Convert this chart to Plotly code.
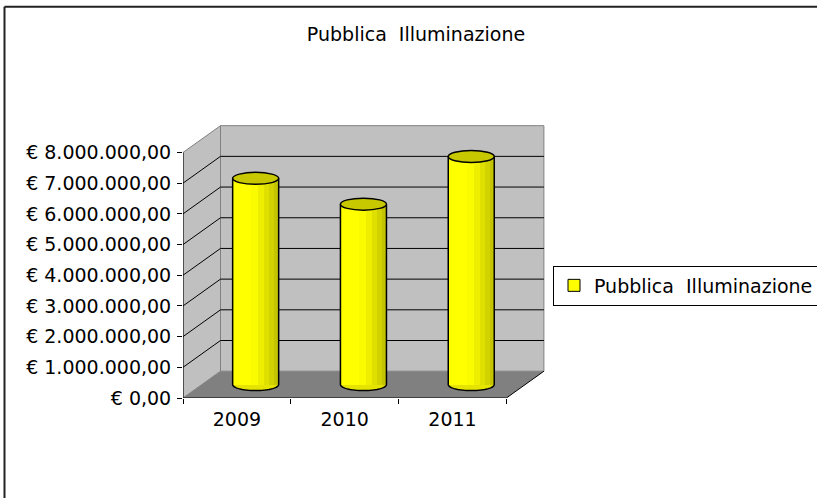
import numpy as np
import plotly.graph_objects as go

# ---------------- data ----------------
CATEGORIES = ["2009", "2010", "2011"]
VALUES = [6720000, 5880000, 7430000]
SERIES_NAME = "Pubblica  Illuminazione"
TITLE = "Pubblica  Illuminazione"
Y_TICK_VALUES = [0, 1000000, 2000000, 3000000, 4000000, 5000000, 6000000, 7000000, 8000000]
Y_TICK_LABELS = ["€ 0,00", "€ 1.000.000,00", "€ 2.000.000,00", "€ 3.000.000,00",
                 "€ 4.000.000,00", "€ 5.000.000,00", "€ 6.000.000,00",
                 "€ 7.000.000,00", "€ 8.000.000,00"]

# ---------------- geometry (pixels of the 817x498 page) ----------------
W, H = 817, 498
PL, PR, PT, PB = 183, 545, 124, 398           # plot area
PX_PER_CAT = 107.8
PX_PER_EUR = 30.69 / 1e6
N = len(CATEGORIES)
Y_TOP = Y_TICK_VALUES[-1]
X_MAX = (PR - PL) / PX_PER_CAT
Y_MAX = (PB - PT) / PX_PER_EUR
DX = 37.5 / PX_PER_CAT                        # depth offset in category units
DY = 26.8 / PX_PER_EUR                        # depth offset in euro units
BW = 46 / PX_PER_CAT                          # cylinder width
RY = 6 / PX_PER_EUR                           # ellipse half height

FONT = "DejaVu Sans"
nb = lambda s: s.replace("  ", "\u00a0 ")

def px2paper_x(px):
    return (px - PL) / (PR - PL)

def px2paper_y(py):
    return (PB - py) / (PB - PT)

fig = go.Figure()

# legend-only entry (empty trace on main axes)
fig.add_trace(go.Bar(x=[None], y=[None], name=nb(SERIES_NAME),
                     marker=dict(color="#ffff00", line=dict(color="black", width=1)),
                     xaxis="x", yaxis="y", showlegend=True, hoverinfo="skip"))

# cylinders drawn as shaded strips on a mid-depth axis pair
centers = [i + 0.5 for i in range(N)]
strips = [(1.0, "#c4c400"), (0.9, "#d2d200"), (0.8, "#e0e000"),
          (0.68, "#eeee00"), (0.55, "#fbfb00"), (0.4, "#ffff00")]
for k, col in strips:
    fig.add_trace(go.Bar(x=centers, y=VALUES, width=BW * k, offset=-BW / 2,
                         marker=dict(color=col, line=dict(width=0)),
                         xaxis="x3", yaxis="y3", showlegend=False, hoverinfo="skip"))

shapes = []
GRAY_WALL = "#c0c0c0"
GRAY_EDGE = "#808080"
# side wall
shapes.append(dict(type="path", xref="x", yref="y", layer="below",
                   path=f"M 0,0 L {DX},{DY} L {DX},{Y_TOP + DY} L 0,{Y_TOP} Z",
                   fillcolor=GRAY_WALL, line=dict(color=GRAY_EDGE, width=1)))
# back wall
shapes.append(dict(type="rect", xref="x", yref="y", layer="below",
                   x0=DX, y0=DY, x1=N + DX, y1=Y_TOP + DY,
                   fillcolor=GRAY_WALL, line=dict(color=GRAY_EDGE, width=1)))
# floor
shapes.append(dict(type="path", xref="x", yref="y", layer="below",
                   path=f"M 0,0 L {N},0 L {N + DX},{DY} L {DX},{DY} Z",
                   fillcolor="#808080", line=dict(width=0)))
# gridlines on walls
for v in Y_TICK_VALUES[1:-1]:
    shapes.append(dict(type="line", xref="x", yref="y", layer="below",
                       x0=0, y0=v, x1=DX, y1=v + DY, line=dict(color="black", width=1)))
    shapes.append(dict(type="line", xref="x", yref="y", layer="below",
                       x0=DX, y0=v + DY, x1=N + DX, y1=v + DY, line=dict(color="black", width=1)))
# front axis lines
shapes.append(dict(type="line", xref="x", yref="y", layer="below",
                   x0=0, y0=0, x1=0, y1=Y_TOP, line=dict(color="black", width=1)))
shapes.append(dict(type="line", xref="x", yref="y", layer="below",
                   x0=0, y0=0, x1=N, y1=0, line=dict(color="black", width=1)))
shapes.append(dict(type="line", xref="x", yref="y", layer="below",
                   x0=N, y0=0, x1=N + DX, y1=DY, line=dict(color="black", width=1)))

# cylinder bottoms / outlines / tops
t = np.linspace(np.pi, 2 * np.pi, 31)
for xc, v in zip(centers, VALUES):
    xl, xr = xc - BW / 2, xc + BW / 2
    shapes.append(dict(type="circle", xref="x3", yref="y3", layer="below",
                       x0=xl, x1=xr, y0=-RY, y1=RY,
                       fillcolor="#e4e400", line=dict(width=0)))
    arc = " ".join(f"L {xc + (BW / 2) * np.cos(a):.5f},{RY * np.sin(a):.1f}" for a in t)
    shapes.append(dict(type="path", xref="x3", yref="y3", layer="above",
                       path=f"M {xl:.5f},{v} L {xl:.5f},0 {arc} L {xr:.5f},{v}",
                       line=dict(color="black", width=1.5)))
    shapes.append(dict(type="circle", xref="x3", yref="y3", layer="above",
                       x0=xl, x1=xr, y0=v - RY, y1=v + RY,
                       fillcolor="#c8c800", line=dict(color="black", width=1.5)))

# outer chart frame (left and top edges visible)
fx0, fy0 = px2paper_x(4.5), px2paper_y(6.7)
shapes.append(dict(type="line", xref="paper", yref="paper", x0=fx0, y0=fy0,
                   x1=fx0, y1=px2paper_y(520), line=dict(color="#222222", width=2)))
shapes.append(dict(type="line", xref="paper", yref="paper", x0=fx0, y0=fy0,
                   x1=px2paper_x(840), y1=fy0, line=dict(color="#222222", width=2)))

fig.update_layout(
    width=W, height=H,
    margin=dict(l=PL, r=W - PR, t=PT, b=H - PB, autoexpand=False),
    paper_bgcolor="white", plot_bgcolor="white",
    barmode="overlay", bargap=0,
    font=dict(family=FONT, size=19, color="black"),
    title=dict(text=nb(TITLE), xref="container", yref="container",
               x=416 / W, y=1 - 34.7 / H, xanchor="center", yanchor="middle",
               font=dict(family=FONT, size=19, color="black")),
    xaxis=dict(range=[0, X_MAX], tickmode="array", tickvals=centers, ticktext=CATEGORIES,
               ticks="", showgrid=False, zeroline=False, showline=False,
               tickfont=dict(family=FONT, size=19, color="black"), ticklabelstandoff=8,
               minor=dict(tickmode="array", tickvals=list(range(N + 1)), ticks="outside",
                          ticklen=5, tickcolor="black", showgrid=False),
               fixedrange=True),
    yaxis=dict(range=[0, Y_MAX], tickmode="array", tickvals=Y_TICK_VALUES, ticktext=Y_TICK_LABELS,
               ticks="outside", ticklen=5, tickcolor="black", showgrid=False, zeroline=False,
               showline=False, tickfont=dict(family=FONT, size=19, color="black"),
               ticklabelstandoff=2, fixedrange=True),
    xaxis3=dict(range=[-DX / 2, X_MAX - DX / 2], overlaying="x", visible=False, fixedrange=True),
    yaxis3=dict(range=[-DY / 2, Y_MAX - DY / 2], overlaying="y", visible=False, fixedrange=True),
    showlegend=True,
    legend=dict(x=px2paper_x(553), y=px2paper_y(265.5), xanchor="left", yanchor="top",
                bordercolor="black", borderwidth=1, bgcolor="white",
                font=dict(family=FONT, size=19, color="black")),
    shapes=shapes,
)

fig.write_html("out.html", config={"displayModeBar": False},
               post_script="document.body.style.margin='0';document.body.style.overflow='hidden';")
